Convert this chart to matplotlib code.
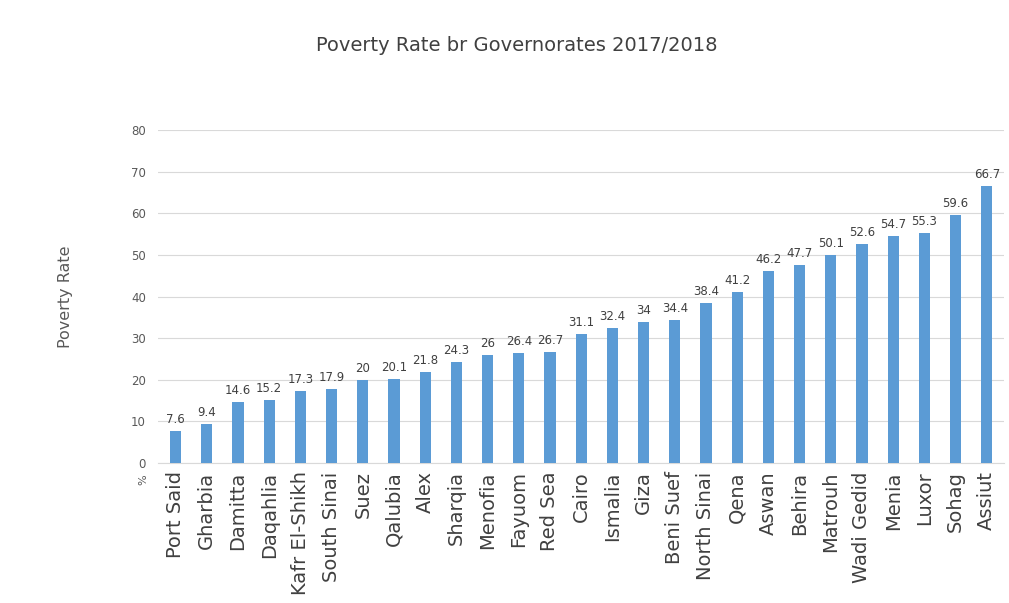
import matplotlib.pyplot as plt
import numpy as np

# ── Data ─────────────────────────────────────────────────────
governorates = ["Port Said", "Gharbia", "Damitta", "Daqahlia", "Kafr El-Shikh",
                "South Sinai", "Suez", "Qalubia", "Alex", "Sharqia", "Menofia",
                "Fayuom", "Red Sea", "Cairo", "Ismalia", "Giza", "Beni Suef",
                "North Sinai", "Qena", "Aswan", "Behira", "Matrouh", "Wadi Gedid",
                "Menia", "Luxor", "Sohag", "Assiut"]
poverty_rate = [7.6, 9.4, 14.6, 15.2, 17.3, 17.9, 20, 20.1, 21.8, 24.3, 26,
                26.4, 26.7, 31.1, 32.4, 34, 34.4, 38.4, 41.2, 46.2, 47.7, 50.1,
                52.6, 54.7, 55.3, 59.6, 66.7]
y_ticks = [0, 10, 20, 30, 40, 50, 60, 70, 80]

# ── Figure ───────────────────────────────────────────────────
fig = plt.figure(figsize=(10.09, 6.03), dpi=100)
ax = fig.add_axes([0.157, 0.232, 0.838, 0.552])

x = np.arange(len(governorates))
ax.bar(x, poverty_rate, width=0.36, color="#5B9BD5", zorder=3)

for xi, v in zip(x, poverty_rate):
    ax.text(xi, v + 1.2, f"{v:g}", ha="center", va="bottom",
            fontsize=8.5, color="#404040")

ax.set_xlim(-0.55, len(governorates) - 0.45)
ax.set_ylim(0, 80)
ax.set_yticks(y_ticks)
ax.tick_params(axis="y", length=0, labelsize=8.5, labelcolor="#595959", pad=9)
ax.set_xticks(x)
ax.set_xticklabels(governorates, rotation=90, fontsize=14, color="#404040")
ax.tick_params(axis="x", length=0, pad=6)
ax.grid(axis="y", color="#D9D9D9", linewidth=0.8, zorder=0)

for side in ["top", "right", "left"]:
    ax.spines[side].set_visible(False)
ax.spines["bottom"].set_color("#D9D9D9")

ax.set_ylabel("Poverty Rate", fontsize=11.5, color="#595959", labelpad=42)
fig.text(0.512, 0.925, "Poverty Rate br Governorates 2017/2018",
         ha="center", va="center", fontsize=14, color="#404040")
fig.text(0.142, 0.205, "%", rotation=90, fontsize=8, color="#595959",
         ha="center", va="center")

fig.savefig("out.png", dpi=100)
